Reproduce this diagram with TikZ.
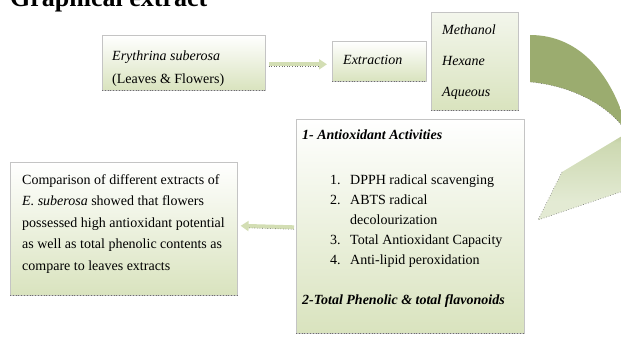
\documentclass[tikz,border=0pt]{standalone}
\usepackage{fontspec}
\setmainfont{Liberation Serif}
\usetikzlibrary{arrows.meta,calc}
\definecolor{boxline}{HTML}{C4C4C4}
\definecolor{boxbot}{HTML}{D9E3BE}
\definecolor{boxmid}{HTML}{F3F6EC}
\definecolor{arrdark}{HTML}{9BAC6F}
\definecolor{arrmid}{HTML}{CCD8B0}
\definecolor{arrlight}{HTML}{E3EAD3}
\definecolor{smallarr}{HTML}{D3DEB4}
\definecolor{shadowdot}{HTML}{6E6E6E}
\pgfdeclareverticalshading{curvedshade}{100bp}{color(0bp)=(arrlight); color(30bp)=(arrlight); color(46bp)=(arrmid); color(52bp)=(arrdark); color(100bp)=(arrdark)}
\tikzset{
  panel/.style={draw=boxline, line width=0.6pt, top color=white, bottom color=boxbot, inner sep=0pt, anchor=north west},
  panelshadow/.style={draw=shadowdot, dotted, line width=0.8pt},
  txt/.style={anchor=base west, inner sep=0pt, font=\fontsize{14}{17}\selectfont},
  smallarrow/.style={draw=smallarr, line width=4pt, -{Triangle[length=8pt,width=10pt]}},
  arrowdots/.style={draw=shadowdot, dotted, line width=0.6pt}
}
\begin{document}
\begin{tikzpicture}[x=1pt,y=-1pt]
\useasboundingbox (0,0) rectangle (621,337);

% title (cut at the top)
\node[anchor=base west, inner sep=0pt, font=\fontsize{26}{30}\selectfont\bfseries] (title) at (10,7) {Graphical extract};

% curved arrow
\shade[shading=curvedshade] (530,35) .. controls (580,35) and (615,75) .. (630,140) -- (650,150) -- (650,182) -- (538,220) -- (562,172) -- (627,133) .. controls (612,108) and (575,86) .. (530,82) -- cycle;
\draw[arrowdots] (627,133) .. controls (612,108) and (575,86) .. (530,82);
\draw[arrowdots] (562,172) -- (538,220) -- (650,182);

% boxes
\node[panel, minimum width=163pt, minimum height=55pt] (b1) at (102,35) {};
\node[panel, minimum width=94pt, minimum height=40pt] (b2) at (332,41) {};
\node[panel, top color=boxmid, minimum width=87pt, minimum height=98pt] (b3) at (431,12) {};
\node[panel, minimum width=228pt, minimum height=214pt] (b4) at (296,119) {};
\node[panel, minimum width=227pt, minimum height=133pt] (b5) at (10,162) {};
\foreach \b in {b1,b2,b3,b4,b5} {\draw[panelshadow] (\b.south west) -- (\b.south east);}

% small arrows
\draw[smallarrow] ([xshift=3pt,yshift=-1.5pt]b1.east) -- ([xshift=-5pt,yshift=-3pt]b2.west);
\draw[arrowdots] ([xshift=3pt,yshift=-3.5pt]b1.east) -- ([xshift=-12pt,yshift=-5pt]b2.west);
\draw[smallarrow] ([xshift=-2pt,yshift=-1pt]b4.west) -- ([xshift=3pt,yshift=3pt]b5.east);
\draw[arrowdots] ([xshift=-2pt,yshift=-3pt]b4.west) -- ([xshift=10pt,yshift=1pt]b5.east);

% texts
\node[txt] (t1) at (112,61) {\textit{Erythrina suberosa}};
\node[txt] (t2) at (112,84) {(Leaves \& Flowers)};
\node[txt] (t3) at (343,64) {\textit{Extraction}};
\node[txt] (t4) at (442,35) {\textit{Methanol}};
\node[txt] (t5) at (442,66) {\textit{Hexane}};
\node[txt] (t6) at (442,96) {\textit{Aqueous}};

\node[txt] (h1) at (302,139) {\textbf{\textit{1- Antioxidant Activities}}};
\node[txt] (n1) at (330,184) {1.};
\node[txt] (i1) at (350,184) {DPPH radical scavenging};
\node[txt] (n2) at (330,204) {2.};
\node[txt] (i2) at (350,204) {ABTS radical};
\node[txt] (i2b) at (350,224) {decolourization};
\node[txt] (n3) at (330,244) {3.};
\node[txt] (i3) at (350,244) {Total Antioxidant Capacity};
\node[txt] (n4) at (330,264) {4.};
\node[txt] (i4) at (350,264) {Anti-lipid peroxidation};
\node[txt] (h2) at (302,304) {\textbf{\textit{2-Total Phenolic \& total flavonoids}}};

\node[txt] (c1) at (22,184) {Comparison of different extracts of};
\node[txt] (c2) at (22,205.5) {\textit{E. suberosa} showed that flowers};
\node[txt] (c3) at (22,227) {possessed high antioxidant potential};
\node[txt] (c4) at (22,248.5) {as well as total phenolic contents as};
\node[txt] (c5) at (22,270) {compare to leaves extracts};
\end{tikzpicture}
\end{document}
